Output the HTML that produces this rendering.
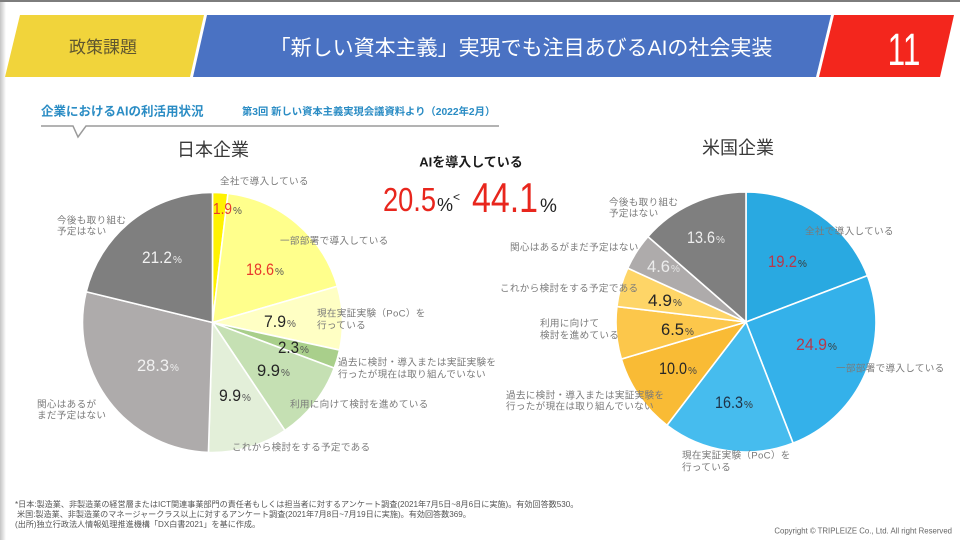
<!DOCTYPE html>
<html lang="ja">
<head>
<meta charset="utf-8">
<style>
  html,body{margin:0;padding:0;background:#fff;}
  body{width:960px;height:540px;overflow:hidden;position:relative;}
  svg{display:block;}
  text{font-family:"Liberation Sans","Noto Sans CJK JP",sans-serif;}
  .lbl{font-size:9.6px;fill:#7a7a7a;letter-spacing:0.3px;}
  .num{font-family:"Liberation Sans",sans-serif;}
</style>
</head>
<body>
<svg width="960" height="540" viewBox="0 0 960 540" xmlns="http://www.w3.org/2000/svg">
  <defs>
    <linearGradient id="lg" x1="0" y1="0" x2="1" y2="0">
      <stop offset="0" stop-color="#c4c4c4"/>
      <stop offset="1" stop-color="#ffffff"/>
    </linearGradient>
  </defs>
  <rect x="0" y="0" width="960" height="540" fill="#fff"/>
  <rect x="0" y="0" width="6" height="540" fill="url(#lg)"/>
  <rect x="0" y="0" width="960" height="2" fill="#7d7d7d"/>

  <!-- Header -->
  <polygon points="20,15 204,15 190,77 5,77" fill="#f1d43b"/>
  <polygon points="207,15 831,15 816,77 193,77" fill="#4a72c3"/>
  <polygon points="834,15 954,15 940,77 819,77" fill="#f3261d"/>
  <text x="103" y="53" font-size="17" fill="#5e5530" text-anchor="middle">政策課題</text>
  <text x="521" y="55" font-size="21" fill="#ffffff" text-anchor="middle">「新しい資本主義」実現でも注目あびるAIの社会実装</text>
  <text x="0" y="0" font-size="45" fill="#ffffff" text-anchor="middle" transform="translate(904,65) scale(0.7,1)" class="num">11</text>

  <!-- Subtitle -->
  <text x="41" y="115.5" font-size="12.5" font-weight="bold" fill="#2a8cc4">企業におけるAIの利活用状況</text>
  <text x="242" y="115" font-size="10.3" font-weight="bold" fill="#2a8cc4">第3回 新しい資本主義実現会議資料より（2022年2月）</text>
  <polyline points="41,126 73,126 78,137 86,126 499,126" fill="none" stroke="#9a9a9a" stroke-width="1.5"/>

  <!-- Titles -->
  <text x="213" y="156" font-size="18" fill="#3a3a3a" text-anchor="middle">日本企業</text>
  <text x="738" y="154" font-size="18" fill="#3a3a3a" text-anchor="middle">米国企業</text>

  <!-- Left pie: center 212.5,322.5 r130 -->
  <g stroke="#ffffff" stroke-width="1.6" stroke-linejoin="round">
    <path d="M212.5,322.5 L212.5,192.5 A130,130 0 0 1 227.98,193.42 Z" fill="#fff200"/>
    <path d="M212.5,322.5 L227.98,193.42 A130,130 0 0 1 337.34,286.23 Z" fill="#ffff8c"/>
    <path d="M212.5,322.5 L337.34,286.23 A130,130 0 0 1 339.55,350.06 Z" fill="#ffffc4"/>
    <path d="M212.5,322.5 L339.55,350.06 A130,130 0 0 1 334.25,368.07 Z" fill="#a9cf8b"/>
    <path d="M212.5,322.5 L334.25,368.07 A130,130 0 0 1 284.88,430.48 Z" fill="#c5e0b3"/>
    <path d="M212.5,322.5 L284.88,430.48 A130,130 0 0 1 208.42,452.44 Z" fill="#e3efd9"/>
    <path d="M212.5,322.5 L208.42,452.44 A130,130 0 0 1 86.19,291.75 Z" fill="#aeabab"/>
    <path d="M212.5,322.5 L86.19,291.75 A130,130 0 0 1 212.5,192.5 Z" fill="#7f7f7f"/>
  </g>

  <!-- Right pie: center 746,322 r130 -->
  <g stroke="#ffffff" stroke-width="1.6" stroke-linejoin="round">
    <path d="M746,322 L746,192 A130,130 0 0 1 867.46,275.67 Z" fill="#29a9e1"/>
    <path d="M746,322 L867.46,275.67 A130,130 0 0 1 793.09,443.17 Z" fill="#34b1ea"/>
    <path d="M746,322 L793.09,443.17 A130,130 0 0 1 666.95,425.21 Z" fill="#46bcee"/>
    <path d="M746,322 L666.95,425.21 A130,130 0 0 1 621.39,359.05 Z" fill="#f9bb35"/>
    <path d="M746,322 L621.39,359.05 A130,130 0 0 1 616.93,306.52 Z" fill="#fcc74b"/>
    <path d="M746,322 L616.93,306.52 A130,130 0 0 1 627.69,268.13 Z" fill="#fed567"/>
    <path d="M746,322 L627.69,268.13 A130,130 0 0 1 647.97,236.6 Z" fill="#aeabab"/>
    <path d="M746,322 L647.97,236.6 A130,130 0 0 1 746,192 Z" fill="#7f7f7f"/>
  </g>

  <!-- Left pie labels -->
  <text class="lbl" x="220" y="184.5">全社で導入している</text>
  <text class="lbl" x="280" y="244">一部部署で導入している</text>
  <text class="lbl" x="317" y="316.5">現在実証実験（PoC）を</text>
  <text class="lbl" x="317" y="328.5">行っている</text>
  <text class="lbl" x="338" y="365.5">過去に検討・導入または実証実験を</text>
  <text class="lbl" x="338" y="377.5">行ったが現在は取り組んでいない</text>
  <text class="lbl" x="290" y="407.5">利用に向けて検討を進めている</text>
  <text class="lbl" x="232" y="450.5">これから検討をする予定である</text>
  <text class="lbl" x="57" y="223.5">今後も取り組む</text>
  <text class="lbl" x="57" y="234.5">予定はない</text>
  <text class="lbl" x="37" y="407.5">関心はあるが</text>
  <text class="lbl" x="37" y="418.5">まだ予定はない</text>

  <!-- Left pie numbers -->
  <g class="num">
    <text x="213" y="214" font-size="16" fill="#e8392c" textLength="19" lengthAdjust="spacingAndGlyphs">1.9</text>
    <text x="233" y="214" font-size="10" fill="#555">%</text>
    <text x="246" y="275" font-size="17" fill="#e8392c" textLength="28" lengthAdjust="spacingAndGlyphs">18.6</text>
    <text x="275" y="275" font-size="10" fill="#555">%</text>
    <text x="264" y="327" font-size="17" fill="#262626" textLength="22" lengthAdjust="spacingAndGlyphs">7.9</text>
    <text x="287" y="327" font-size="10" fill="#555">%</text>
    <text x="278" y="353" font-size="17" fill="#262626" textLength="21" lengthAdjust="spacingAndGlyphs">2.3</text>
    <text x="300" y="353" font-size="10" fill="#555">%</text>
    <text x="257" y="376" font-size="17" fill="#262626" textLength="23" lengthAdjust="spacingAndGlyphs">9.9</text>
    <text x="281" y="376" font-size="10" fill="#555">%</text>
    <text x="219" y="401" font-size="17" fill="#262626" textLength="22" lengthAdjust="spacingAndGlyphs">9.9</text>
    <text x="242" y="401" font-size="10" fill="#555">%</text>
    <text x="137" y="371" font-size="17" fill="#f2f2f2" textLength="32" lengthAdjust="spacingAndGlyphs">28.3</text>
    <text x="170" y="371" font-size="10" fill="#eeeeee">%</text>
    <text x="142" y="263" font-size="16.5" fill="#f2f2f2" textLength="30" lengthAdjust="spacingAndGlyphs">21.2</text>
    <text x="173" y="263" font-size="10" fill="#eeeeee">%</text>
  </g>

  <!-- Right pie labels -->
  <text class="lbl" x="609" y="205.5">今後も取り組む</text>
  <text class="lbl" x="609" y="216.5">予定はない</text>
  <text class="lbl" x="805" y="234.5">全社で導入している</text>
  <text class="lbl" x="510" y="250.5">関心はあるがまだ予定はない</text>
  <text class="lbl" x="500" y="291.5">これから検討をする予定である</text>
  <text class="lbl" x="540" y="326.5">利用に向けて</text>
  <text class="lbl" x="540" y="338.5">検討を進めている</text>
  <text class="lbl" x="836" y="371.5">一部部署で導入している</text>
  <text class="lbl" x="506" y="398.5">過去に検討・導入または実証実験を</text>
  <text class="lbl" x="506" y="409.5">行ったが現在は取り組んでいない</text>
  <text class="lbl" x="682" y="458.5">現在実証実験（PoC）を</text>
  <text class="lbl" x="682" y="470.5">行っている</text>

  <!-- Right pie numbers -->
  <g class="num">
    <text x="687" y="243" font-size="17" fill="#eeeeee" textLength="28" lengthAdjust="spacingAndGlyphs">13.6</text>
    <text x="716" y="243" font-size="10" fill="#e6e6e6">%</text>
    <text x="768" y="267" font-size="17" fill="#b8374a" textLength="29" lengthAdjust="spacingAndGlyphs">19.2</text>
    <text x="798" y="267" font-size="10" fill="#3a3a3a">%</text>
    <text x="647" y="272" font-size="17" fill="#ececec" textLength="23" lengthAdjust="spacingAndGlyphs">4.6</text>
    <text x="671" y="272" font-size="10" fill="#e6e6e6">%</text>
    <text x="648" y="306" font-size="17" fill="#262626" textLength="24" lengthAdjust="spacingAndGlyphs">4.9</text>
    <text x="673" y="306" font-size="10" fill="#444">%</text>
    <text x="661" y="335" font-size="17" fill="#262626" textLength="23" lengthAdjust="spacingAndGlyphs">6.5</text>
    <text x="685" y="335" font-size="10" fill="#444">%</text>
    <text x="796" y="350" font-size="17" fill="#b8374a" textLength="31" lengthAdjust="spacingAndGlyphs">24.9</text>
    <text x="828" y="350" font-size="10" fill="#3a3a3a">%</text>
    <text x="659" y="374" font-size="17" fill="#262626" textLength="28" lengthAdjust="spacingAndGlyphs">10.0</text>
    <text x="688" y="374" font-size="10" fill="#444">%</text>
    <text x="715" y="408" font-size="17" fill="#1e3348" textLength="28" lengthAdjust="spacingAndGlyphs">16.3</text>
    <text x="744" y="408" font-size="10" fill="#333">%</text>
  </g>

  <!-- Center callout -->
  <text x="471" y="166.5" font-size="13" font-weight="bold" fill="#1a1a1a" text-anchor="middle">AIを導入している</text>
  <g class="num">
    <text x="383" y="211" font-size="33" fill="#e8261d" textLength="53" lengthAdjust="spacingAndGlyphs">20.5</text>
    <text x="437" y="211" font-size="18" fill="#222">%</text>
    <text x="453" y="201" font-size="12" fill="#222">&lt;</text>
    <text x="472" y="212" font-size="42" fill="#e8261d" textLength="66" lengthAdjust="spacingAndGlyphs">44.1</text>
    <text x="540" y="212" font-size="19" fill="#222">%</text>
  </g>

  <!-- Footnotes -->
  <text x="15" y="507" font-size="8.1" fill="#555">*日本:製造業、非製造業の経営層またはICT関連事業部門の責任者もしくは担当者に対するアンケート調査(2021年7月5日~8月6日に実施)。有効回答数530。</text>
  <text x="17" y="517" font-size="8.1" fill="#555">米国:製造業、非製造業のマネージャークラス以上に対するアンケート調査(2021年7月8日~7月19日に実施)。有効回答数369。</text>
  <text x="15" y="527" font-size="8.1" fill="#555">(出所)独立行政法人情報処理推進機構「DX白書2021」を基に作成。</text>
  <text x="952" y="533.5" font-size="7.8" fill="#666" text-anchor="end">Copyright © TRIPLEIZE Co., Ltd.  All right Reserved</text>
</svg>
</body>
</html>
